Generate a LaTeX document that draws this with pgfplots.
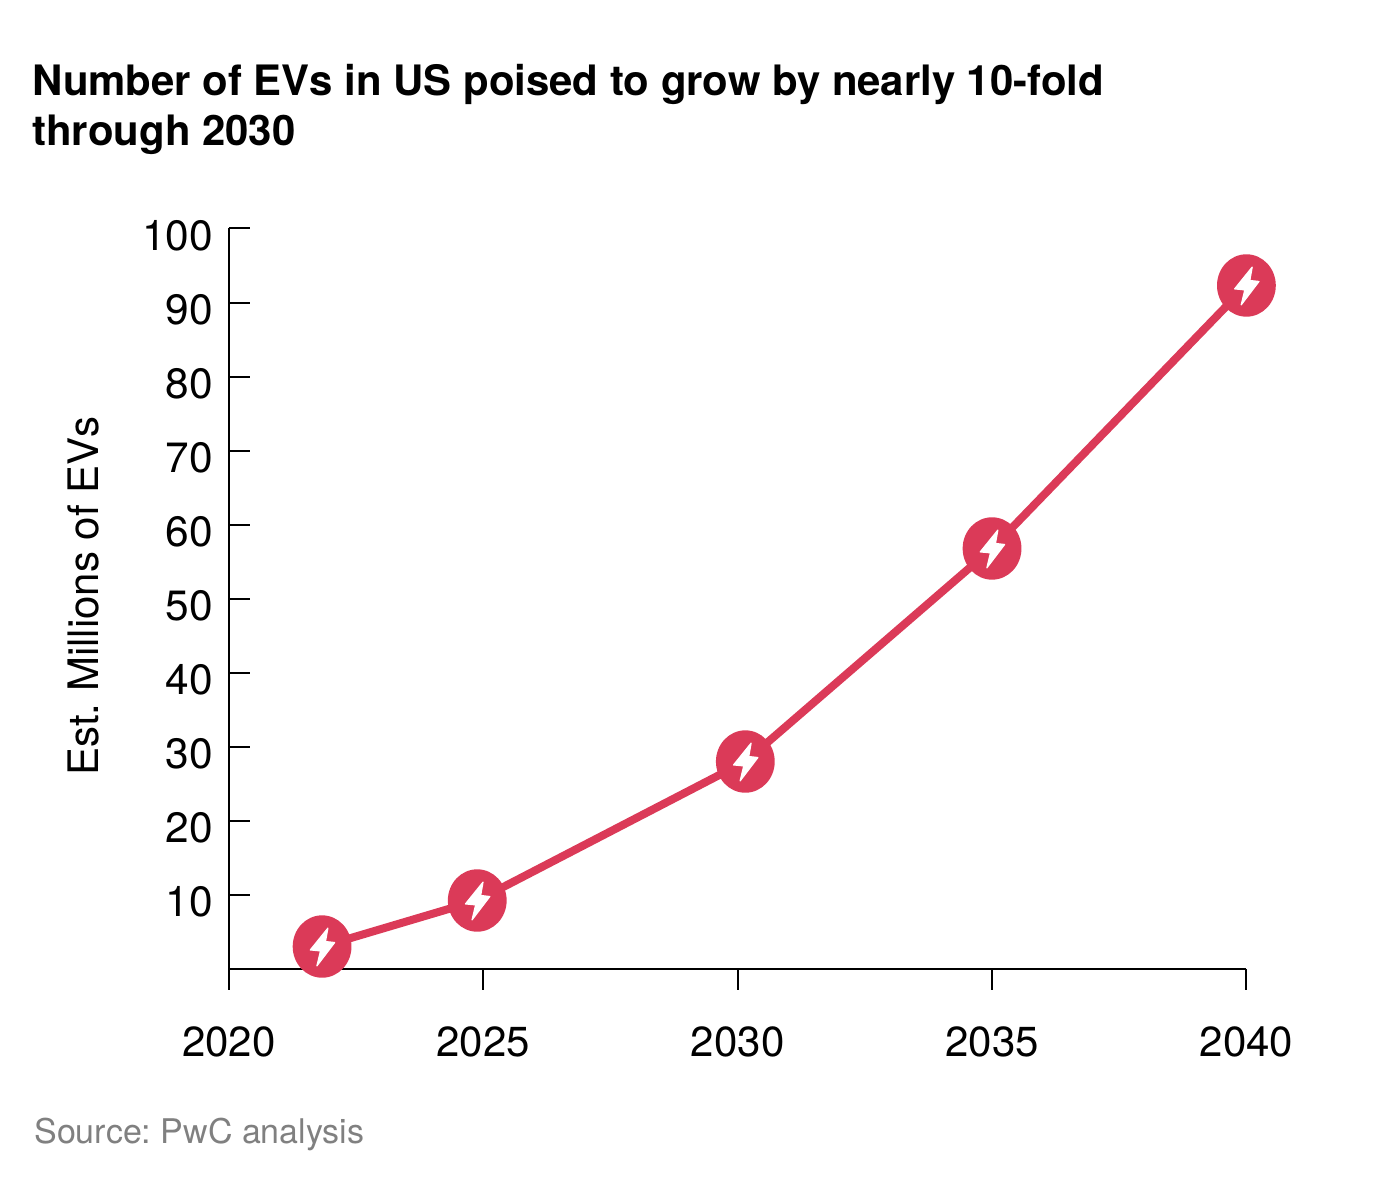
\documentclass[border=0pt]{standalone}
\usepackage{fontspec}
\setmainfont{TeX Gyre Heros}
\usepackage{pgfplots}
\pgfplotsset{compat=1.18}
\usetikzlibrary{plotmarks}
\definecolor{evred}{HTML}{DB3A58}
\definecolor{srcgray}{HTML}{808080}
\frenchspacing
% marker: red disc with white lightning bolt, 1px = 0.5pt
\pgfdeclareplotmark{evbolt}{%
  \pgfpathellipse{\pgfpointorigin}{\pgfpoint{14.7pt}{0pt}}{\pgfpoint{0pt}{15.6pt}}%
  \pgfsetfillcolor{evred}%
  \pgfusepath{fill}%
  \pgfsetfillcolor{white}%
  \pgfsetstrokecolor{white}%
  \pgfsetlinewidth{0.6pt}%
  \pgfsetroundjoin
  \pgfpathmoveto{\pgfpoint{2.9pt}{9.2pt}}%
  \pgfpathlineto{\pgfpoint{-5.9pt}{-1.7pt}}%
  \pgfpathlineto{\pgfpoint{-0.8pt}{-2.2pt}}%
  \pgfpathlineto{\pgfpoint{-2.6pt}{-9.7pt}}%
  \pgfpathlineto{\pgfpoint{6.3pt}{2.0pt}}%
  \pgfpathlineto{\pgfpoint{1.7pt}{2.5pt}}%
  \pgfpathclose
  \pgfusepath{fill,stroke}%
}
\begin{document}
\begin{tikzpicture}[x=0.5pt,y=0.5pt]
\useasboundingbox (-229,-222) rectangle (1152,968);
\begin{axis}[
  at={(0pt,-0.25pt)}, anchor=south west,
  scale only axis,
  width=508.7pt, height=370pt,
  xmin=2020, xmax=2040, ymin=0, ymax=100,
  axis x line=bottom, axis y line=left,
  axis line style={black, line width=1pt, -},
  xtick={2020,2025,2030,2035,2040},
  ytick={10,20,...,100},
  x tick label style={/pgf/number format/1000 sep={}, font=\fontsize{21}{24}\selectfont, yshift=-15.2pt},
  y tick label style={font=\fontsize{21.2}{24}\selectfont, yshift=-3.6pt, xshift=-4.4pt},
  /pgf/number format/assume math mode=true,
  tick style={black, line width=1pt},
  major tick length=10.5pt,
  xtick align=outside, ytick align=inside,
  clip=false,
]
\addplot[evred, line width=4pt, line join=round, mark=evbolt] coordinates {
  (2021.83,2.97) (2024.88,9.19) (2030.15,27.97) (2035.0,56.76) (2040,92.3)
};
\end{axis}
\node[anchor=base west, inner sep=0pt, font=\fontsize{20.95}{24}\selectfont\bfseries] at (-197,872.5) {Number of EVs in US poised to grow by nearly 10-fold};
\node[anchor=base west, inner sep=0pt, font=\fontsize{20.95}{24}\selectfont\bfseries] at (-197,822.5) {through 2030};
\node[anchor=base, rotate=90, inner sep=0pt, font=\fontsize{21}{24}\selectfont] at (-130,372) {Est. Millions of EVs};
\node[anchor=base west, inner sep=0pt, text=srcgray, font=\fontsize{17}{20}\selectfont] at (-195,-175) {Source: PwC analysis};
\end{tikzpicture}
\end{document}
